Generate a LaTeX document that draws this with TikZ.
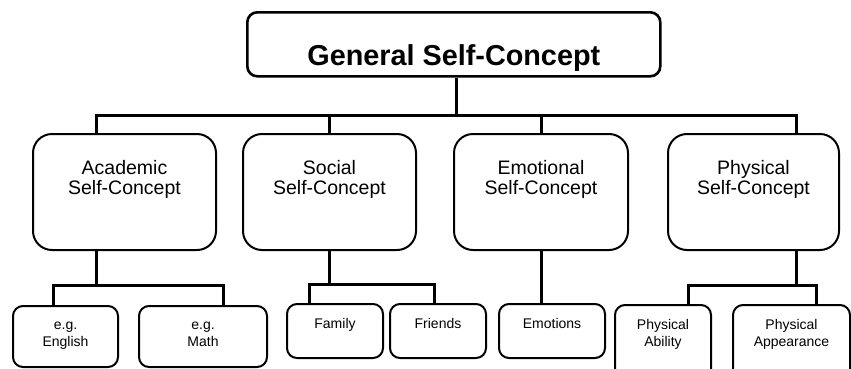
\documentclass[tikz,border=0pt]{standalone}
\usepackage{fontspec}
\setmainfont{Liberation Sans}
\begin{document}
\begin{tikzpicture}[x=1pt,y=-1pt,
  topbox/.style={draw, line width=2.6pt, rounded corners=10pt, anchor=north west, inner sep=0pt},
  midbox/.style={draw, line width=2pt, rounded corners=19pt, anchor=north west, inner sep=0pt},
  leafbox/.style={draw, line width=2pt, rounded corners=10pt, anchor=north west, inner sep=0pt},
  conn/.style={line width=3pt},
  toptxt/.style={anchor=base, inner sep=0pt, font=\bfseries\fontsize{28.8}{32}\selectfont, yshift=-13.7pt},
  midtxt/.style={anchor=north, inner sep=0pt, align=center, font=\fontsize{19.5}{20.5}\selectfont, yshift=-27pt},
  leaftxt/.style={anchor=north, inner sep=0pt, align=center, font=\fontsize{14}{17}\selectfont, yshift=-15pt},
  egtxt/.style={leaftxt, yshift=-1.7pt}
]
\useasboundingbox (0,0) rectangle (851,368);
\clip (0,0) rectangle (851,368);

% top
\node[topbox, minimum width=413pt, minimum height=64pt,
  label={[toptxt]center:General Self-Concept}] (gen) at (246,11) {};

% middle level
\node[midbox, minimum width=183pt, minimum height=116pt,
  label={[midtxt]north:{Academic\\Self-Concept}}] (acad) at (32,133) {};
\node[midbox, minimum width=173pt, minimum height=116pt,
  label={[midtxt]north:{Social\\Self-Concept}}] (soc) at (242,133) {};
\node[midbox, minimum width=174pt, minimum height=116pt,
  label={[midtxt]north:{Emotional\\Self-Concept}}] (emo) at (453,133) {};
\node[midbox, minimum width=171pt, minimum height=116pt,
  label={[midtxt]north:{Physical\\Self-Concept}}] (phys) at (667,133) {};

% leaves
\node[leafbox, minimum width=105pt, minimum height=61pt,
  label={[egtxt]north:{e.g.\\English}}] (eng) at (12,305) {};
\node[leafbox, minimum width=128pt, minimum height=61pt,
  label={[egtxt]north:{e.g.\\Math}}] (math) at (138,305) {};
\node[leafbox, minimum width=96pt, minimum height=54pt,
  label={[leaftxt]north:Family}] (fam) at (286,303) {};
\node[leafbox, minimum width=96pt, minimum height=54pt,
  label={[leaftxt]north:Friends}] (fri) at (389,303) {};
\node[leafbox, minimum width=106pt, minimum height=54pt,
  label={[leaftxt]north:Emotions}] (emos) at (498,303) {};
\node[leafbox, minimum width=96pt, minimum height=76pt,
  label={[leaftxt, yshift=-0.3pt]north:{Physical\\Ability}}] (abil) at (614,304) {};
\node[leafbox, minimum width=117pt, minimum height=76pt,
  label={[leaftxt, yshift=-0.3pt]north:{Physical\\Appearance}}] (appe) at (732,304) {};

% connectors: top level
\draw[conn] ([xshift=210pt]gen.south west) -- ++(0,38) coordinate (jg);
\draw[conn] ([xshift=64pt]acad.north west) |- (jg) -| ([xshift=129pt]phys.north west);
\draw[conn] ([xshift=87pt]soc.north west) |- (jg);
\draw[conn] ([xshift=88pt]emo.north west) |- (jg);

% academic
\draw[conn] ([xshift=64pt]acad.south west) -- ++(0,34) coordinate (ja);
\draw[conn] ([xshift=41pt]eng.north west) |- (ja) -| ([xshift=85pt]math.north west);
% social
\draw[conn] ([xshift=87pt]soc.south west) -- ++(0,33) coordinate (js);
\draw[conn] ([xshift=23pt]fam.north west) |- (js) -| ([xshift=45pt]fri.north west);
% emotional
\draw[conn] ([xshift=88pt]emo.south west) -- ([xshift=43pt]emos.north west);
% physical
\draw[conn] ([xshift=129pt]phys.south west) -- ++(0,34) coordinate (jp);
\draw[conn] ([xshift=74pt]abil.north west) |- (jp) -| ([xshift=84pt]appe.north west);
\end{tikzpicture}
\end{document}
